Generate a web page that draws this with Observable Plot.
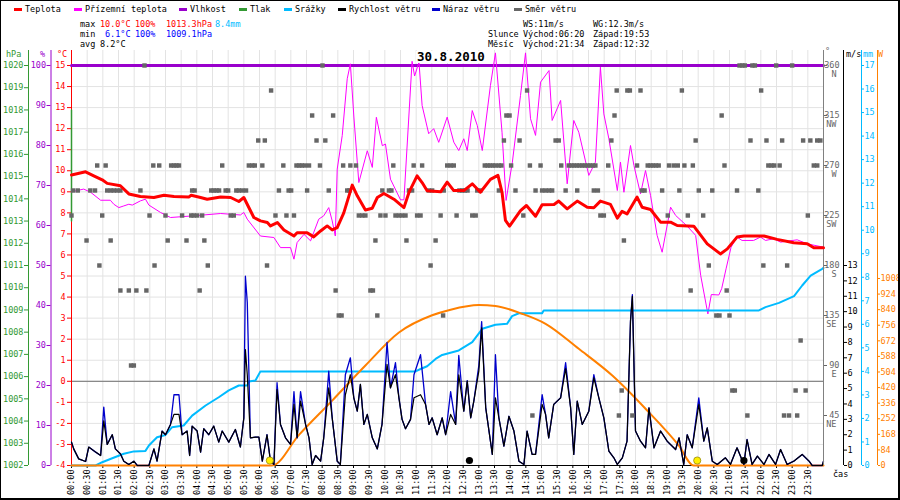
<!DOCTYPE html>
<html><head><meta charset="utf-8">
<script src="https://cdn.jsdelivr.net/npm/d3@7"></script>
<script src="https://cdn.jsdelivr.net/npm/@observablehq/plot@0.6"></script>
<style>
body{margin:0;background:#fff;}
#stage{position:relative;width:900px;height:500px;background:#fff;overflow:hidden;font-family:"DejaVu Sans Mono",monospace;font-size:8.5px;}
#stage svg{position:absolute;left:0;top:0;}
#stage svg text{font-family:"DejaVu Sans Mono",monospace !important;font-size:8.5px !important;}
.t{position:absolute;white-space:pre;line-height:10px;}
.sw{position:absolute;height:3px;width:8px;}
</style></head><body><div id="stage"></div>
<script>
// ---------------- data ----------------
const tempTime = [0,0.45,0.71,0.98,1.14,1.56,1.83,2.2,2.63,2.95,3.27,3.74,3.82,4.12,4.33,4.76,5.08,5.34,5.5,5.82,6.03,6.25,6.35,6.57,6.78,7.1,7.2,7.52,7.73,7.95,8.16,8.32,8.48,8.69,8.96,9.12,9.38,9.6,9.76,9.97,10.29,10.61,10.77,11.03,11.19,11.35,11.78,11.99,12.2,12.52,12.79,13.05,13.37,13.61,13.74,13.85,13.98,14.33,14.52,14.81,15.02,15.4,15.55,15.82,16.14,16.46,16.67,16.88,17.2,17.42,17.57,17.73,18.05,18.21,18.48,18.8,19.12,19.33,19.86,20.29,20.71,20.93,21.24,21.46,22.1,22.52,23.05,23.48,23.69,24];
const tempVal = [9.8,9.95,9.76,9.57,9.4,9.29,8.9,8.78,8.73,8.84,8.78,8.75,8.84,8.73,8.65,8.75,8.73,8.54,8.73,7.78,7.62,7.54,7.38,7.54,7.19,6.9,7.06,7.06,6.86,7.14,7.38,7.19,7.3,8.0,9.32,8.81,8.14,8.22,8.73,8.92,8.65,8.25,8.97,9.76,9.44,9.05,9.0,9.46,9.06,9.06,9.38,8.98,9.59,9.78,8.98,7.64,7.37,8.11,8.35,7.84,8.38,8.4,8.56,8.19,8.56,8.27,8.24,8.56,8.4,7.75,8.07,7.95,8.75,8.27,8.16,7.56,7.56,7.4,7.37,6.53,6.05,6.29,6.85,6.9,6.9,6.74,6.58,6.53,6.34,6.34];

const groundTime = [0,0.39,0.61,0.93,1.24,1.35,1.51,1.67,1.83,1.94,2.2,2.36,2.47,2.84,3.16,3.9,4.76,5.39,5.5,5.61,6.03,6.46,6.67,6.99,7.1,7.2,7.42,7.63,7.89,8.05,8.21,8.32,8.42,8.48,8.64,8.8,8.9,9.01,9.17,9.44,9.6,9.73,9.92,10.02,10.18,10.5,10.61,10.87,10.95,11.09,11.19,11.4,11.56,11.72,11.99,12.2,12.36,12.52,12.63,12.79,12.95,13.11,13.37,13.53,13.74,13.87,14.07,14.33,14.49,14.65,14.81,14.97,15.24,15.34,15.61,15.82,16.03,16.19,16.51,16.72,16.88,16.99,17.15,17.42,17.52,17.63,17.84,17.95,18.16,18.32,18.48,18.69,18.85,19.12,19.28,19.65,19.92,20.08,20.31,20.42,20.66,20.75,20.89,21.05,21.24,21.4,21.77,21.99,22.15,22.41,22.63,23.16,23.48,24];
const groundVal = [9.0,9.13,8.98,8.6,8.6,8.41,8.25,8.33,8.41,8.37,8.57,8.65,8.37,8.02,7.78,7.86,7.97,7.9,8.02,7.7,6.9,6.83,6.35,6.35,5.8,6.59,6.98,6.67,7.7,7.86,8.25,7.62,6.9,10.08,11.67,14.37,15.08,12.6,9.44,10.95,10.16,12.54,11.19,11.27,9.6,8.62,8.62,15.2,14.5,15.16,13.1,11.76,12.0,11.35,12.55,11.36,10.96,11.52,10.96,12.86,12.15,10.96,14.05,15.6,11.83,8.59,10.41,13.58,15.6,12.47,11.68,14.21,14.76,12.39,13.34,9.38,12.39,11.83,9.78,10.41,14.92,12.7,11.52,9.06,10.41,8.98,11.2,10.25,8.9,10.01,8.83,6.93,6.13,8.27,7.88,7.37,6.93,5.03,3.2,4.12,4.1,4.4,5.34,6.37,6.85,6.69,6.69,6.85,6.69,6.77,6.61,6.72,6.53,6.37];

const humTime = [0,24];
const humVal = [100,100];

const pressTime = [0,0];
const pressVal = [1018.0,1013.0];

const rainTime = [0,0.77,0.98,1.3,1.67,1.99,2.36,2.47,2.73,3.0,3.21,3.58,3.85,4.28,4.7,5.02,5.34,5.61,5.66,5.87,6.03,10.98,11.14,11.35,11.62,11.83,12.36,12.79,13.11,13.53,13.9,14.06,14.28,15.02,15.07,21.94,22.15,22.58,23.06,23.32,23.59,23.96,24];
const rainVal = [0,0,0.14,0.31,0.5,0.6,0.62,0.85,1.2,1.3,1.63,1.7,2.12,2.55,2.9,3.19,3.4,3.4,3.57,3.61,4.0,4.0,4.1,4.22,4.53,4.7,4.89,5.24,5.81,5.98,6.02,6.35,6.47,6.47,6.59,6.59,6.73,6.91,7.2,7.65,8.07,8.36,8.4];

const solarTime = [0,6.4,7.26,8.32,9.38,10.45,11.51,12.1,13.0,13.53,14.38,15.13,16.19,17.26,18.32,19.38,19.86,24];
const solarVal = [0,0,165,350,539,717,810,840,865,860,818,764,629,485,306,108,0,0];

const windTime = [0,0.07,0.23,0.45,0.55,0.77,0.93,1.03,1.14,1.3,1.4,1.56,1.67,1.83,1.99,2.1,2.47,2.63,2.73,2.89,3.0,3.16,3.27,3.43,3.53,3.69,3.77,3.85,4.01,4.12,4.22,4.38,4.54,4.7,4.81,5.02,5.23,5.39,5.5,5.55,5.61,5.71,5.87,5.98,6.09,6.24,6.35,6.46,6.56,6.67,6.83,6.99,7.1,7.2,7.31,7.47,7.58,7.68,7.79,7.95,8.05,8.21,8.32,8.48,8.58,8.74,8.9,9.01,9.12,9.22,9.33,9.44,9.6,9.76,9.91,10.07,10.18,10.34,10.45,10.55,10.66,10.82,10.93,11.14,11.3,11.41,11.51,11.67,11.83,11.94,12.1,12.26,12.36,12.52,12.63,12.74,12.84,13.0,13.09,13.22,13.43,13.53,13.64,13.8,13.96,14.12,14.28,14.44,14.54,14.7,14.81,15.02,15.13,15.23,15.39,15.61,15.77,15.93,16.03,16.14,16.3,16.51,16.67,16.83,16.99,17.15,17.31,17.42,17.58,17.73,17.84,17.9,18.0,18.16,18.32,18.43,18.59,18.8,19.01,19.28,19.39,19.54,19.65,19.81,20.02,20.18,20.29,20.45,20.61,20.87,21.03,21.24,21.46,21.56,21.72,21.89,22.1,22.26,22.47,22.63,22.84,23.05,23.32,23.54,23.64,23.96,24];
const windSpeed = [1.52,1.08,0.43,0.26,1.2,0.87,0.65,2.9,1.37,2.0,1.08,0.76,0.28,0.07,0.28,0,0,1.08,0.28,2.24,2.0,2.67,3.32,3.32,2.0,2.24,0.65,2.56,2.24,0.87,2.39,2.0,2.56,1.52,2.24,1.52,2.34,1.2,3.1,7.54,5.9,1.8,1.84,1.84,0.28,2.0,0.28,0.07,4.94,2.67,1.8,1.37,3.97,1.8,4.18,2.67,1.8,0.07,0.65,0.28,1.8,5.05,3.1,0.28,0.07,4.6,5.9,4.4,3.53,5.27,2.67,3.32,1.8,1.08,2.67,6.57,5.05,5.9,4.4,3.0,2.39,3.0,4.4,4.6,3.97,2.67,3.1,2.0,3.1,2.0,3.32,2.67,5.9,3.53,5.48,3.1,4.18,6.13,8.95,3.75,0.72,4.4,3.1,1.26,3.2,2.24,0.28,0.07,2.24,0.72,0.72,3.97,3.32,1.8,3.97,4.4,6.3,3.75,0.72,4.18,2.67,3.53,5.7,4.4,3.1,0.93,0.5,0.07,0.5,1.58,9.38,11.0,2.24,1.58,1.15,3.75,1.15,2.24,1.58,1.04,1.8,0.07,2.0,1.15,3.97,1.58,2.45,0.28,0.07,0.5,0.07,1.15,0.07,1.69,0.07,0.61,0.07,0.72,0.07,1.04,0.07,0.28,0.72,0.28,0,0,0.28];
const windGust = [1.52,1.08,0.43,0.26,1.2,0.87,0.65,3.8,1.37,2.0,1.08,0.76,0.28,0.07,0.28,0,0,1.08,0.28,2.24,2.0,2.67,4.6,4.6,2.0,2.24,0.65,2.56,2.24,0.87,2.39,2.0,2.56,1.52,2.24,1.52,2.34,1.2,3.1,12.3,10.6,1.8,1.84,1.84,0.28,2.0,0.28,0.07,5.38,2.67,1.8,1.37,4.8,1.8,4.8,2.67,1.8,0.07,0.65,0.28,1.8,6.13,3.1,0.28,0.07,5.9,7.0,4.4,3.53,5.27,2.67,3.32,1.8,1.08,2.67,8.0,5.05,6.68,4.4,3.0,2.39,3.0,5.9,7.2,3.97,2.67,3.1,2.0,3.1,2.0,4.8,2.67,7.15,3.53,5.52,3.1,4.18,6.5,9.35,3.75,0.72,7.2,3.1,1.26,3.2,2.24,0.28,0.07,2.24,0.72,0.72,4.6,3.32,1.8,3.97,4.4,6.68,3.75,0.72,4.18,2.67,3.53,5.9,4.4,3.1,0.93,0.5,0.07,0.5,1.58,9.38,11.1,2.24,1.58,1.15,3.75,1.15,2.24,1.58,1.04,1.8,0.07,2.0,1.15,4.4,1.58,2.45,0.28,0.07,0.5,0.07,1.15,0.07,1.69,0.07,0.61,0.07,0.72,0.07,1.04,0.07,0.28,0.72,0.28,0,0,0.28];

// wind direction: observation times (h) per compass sector
const dirN   = [2.33,8.01,21.32,21.41,21.49,21.73,21.81,22.49,23.0];
const dirNNW = [6.37,14.54,17.4,17.74,17.82,18.16,19.48,22.01];
const dirNW  = [7.68,8.35,13.88,13.98,17.33,20.75];
const dirWNW = [5.96,6.17,7.82,8.1,13.8,14.3,15.45,15.55,17.23,19.92,21.67,22.18,22.68,23.35,23.58,23.8,23.9];
const dirW   = [0.82,1.09,2.61,2.8,3.18,3.27,3.35,3.43,4.81,5.66,5.77,5.85,6.09,6.76,7.18,7.27,7.35,7.45,7.58,7.93,8.67,8.9,9.08,10.27,10.92,11.19,11.99,12.1,12.2,13.19,13.28,13.36,13.45,13.53,13.64,13.72,14.03,14.63,14.97,15.63,15.87,15.96,16.04,16.13,16.21,16.3,16.38,16.47,16.55,16.64,16.72,17.13,18.05,18.39,18.48,18.56,18.65,18.74,19.07,19.22,19.35,19.56,19.83,20.84,22.24,22.34,22.43,22.6,23.69,23.8];
const dirWSW = [0.05,0.2,0.6,0.75,1.14,1.25,1.35,1.46,1.56,2.2,3.85,3.93,4.46,4.54,4.63,4.71,4.92,5.0,5.26,5.34,5.45,5.57,6.62,6.93,7.01,7.52,8.21,8.8,8.87,9.92,10.13,10.21,10.77,10.87,11.4,11.51,11.88,12.38,12.47,12.55,12.64,12.95,13.05,13.64,14.17,14.81,15.02,15.13,15.24,15.34,15.77,16.14,16.67,16.8,18.21,18.29,18.85,19.4,20.02,20.45,21.24,21.92];
const dirSW  = [0,0.98,2.49,3.0,3.53,3.82,3.9,4.01,4.17,5.08,5.18,6.51,6.86,7.1,9.17,9.28,9.38,9.86,10.02,10.34,10.45,10.55,10.66,11.03,11.14,11.78,12.29,12.79,12.9,14.42,16.88,16.99,19.03,19.67,20.16,23.5];
const dirSSW = [0.48,1.25,3.07,3.67,4.24,9.7,10.69,11.62,17.63];
const dirS   = [0.89,2.65,4.35,6.24,11.46,20.34,22.08,22.84];
const dirSSE = [1.56,1.83,2.07,2.39,4.09,8.43,9.54,9.62,19.76,20.91];
const dirSE  = [8.53,8.62,9.76,11.86,20.58,20.68,21.0];
const dirESE = [23.27];
const dirE   = [1.9,1.99];
const dirENE = [17.56,21.09,21.17,23.11,23.43];
const dirNE  = [14.71,17.47,17.9,21.57,22.74,22.9,23.16];

const sunTimes = [6.33,19.97];   // sunrise / sunset markers
const moonTimes = [12.7,21.46];  // moonset / moonrise markers

// ticks
const tempTicks = [-4,-3,-2,-1,0,1,2,3,4,5,6,7,8,9,10,11,12,13,14,15];
const hpaTicks = [1002,1003,1004,1005,1006,1007,1008,1009,1010,1011,1012,1013,1014,1015,1016,1017,1018,1019,1020];
const humTicks = [0,10,20,30,40,50,60,70,80,90,100];
const dirTicks = [45,90,135,180,225,270,315,360];
const dirNames = ["NE","E","SE","S","SW","W","NW","N"];
const msTicks = [0,1,2,3,4,5,6,7,8,9,10,11,12,13];
const mmTicks = [0,1,2,3,4,5,6,7,8,9,10,11,12,13,14,15,16,17];
const wTicks = [0,84,168,252,336,420,504,588,672,756,840,924,1008];
const timeLabels = ["00:00","00:30","01:00","01:30","02:00","02:30","03:00","03:30","04:00","04:30","05:00","05:30","06:00","06:30","07:00","07:30","08:00","08:30","09:00","09:30","10:00","10:30","11:00","11:30","12:00","12:30","13:00","13:30","14:00","14:30","15:00","15:30","16:00","16:30","17:00","17:30","18:00","18:30","19:00","19:30","20:00","20:30","21:00","21:30","22:00","22:30","23:00","23:30"];
const timeTicks = timeLabels.map((s, i) => i / 2);
const gridTimes = timeTicks.concat([24]);

const legendLabels = ["Teplota","Přízemní teplota","Vlhkost","Tlak","Srážky","Rychlost větru","Náraz větru","Směr větru"];

// ---------------- style ----------------
const RED = "#ff0000", MAG = "#ff00ff", PUR = "#9900cc", GRN = "#339933",
      LBL = "#00bbff", DBL = "#0000cc", GRY = "#666666", ORG = "#ff8000";
const legendColors = [RED, MAG, PUR, GRN, LBL, "#000000", DBL, GRY];
const legendTextX = [25, 85, 190, 250, 295, 349, 443, 525];

const stage = document.getElementById("stage");
const FONT = '"DejaVu Sans Mono", monospace';
const AX = {fontSize: 8.5, fontFamily: FONT, label: null, tickFormat: d => String(d)};

function layer(yDomain, marks) {
  const svg = Plot.plot({
    width: 900, height: 500,
    marginTop: 50, marginBottom: 35, marginLeft: 71, marginRight: 77,
    x: {domain: [0, 24], axis: null},
    y: {domain: yDomain, axis: null},
    style: {background: "transparent", fontFamily: FONT, fontSize: "8.5px", overflow: "visible"},
    marks
  });
  svg.style.position = "absolute";
  svg.style.left = "0px";
  svg.style.top = "0px";
  stage.appendChild(svg);
}

const zip = (ts, vs) => ts.map((t, i) => ({t, v: vs[i]}));

const TEMP_DOM = [-4, 15.7125];

// base: grid, °C axis, time axis
layer(TEMP_DOM, [
  Plot.ruleX(gridTimes, {stroke: "#e3e3e3"}),
  Plot.ruleY(tempTicks, {stroke: "#e3e3e3"}),
  Plot.ruleY([0], {stroke: "#707070"}),
  Plot.ruleY([-4], {stroke: "#000"}),
  Plot.ruleX([0], {stroke: RED}),
  Plot.axisY(tempTicks, {...AX, anchor: "left", tickSize: 4, tickPadding: 2, color: RED}),
  Plot.axisX(timeTicks, {...AX, anchor: "bottom", tickSize: 3, tickPadding: 1, tickRotate: -90,
    textAnchor: "end", lineAnchor: "middle", color: "#000",
    tickFormat: d => timeLabels[Math.round(d * 2)]})
]);

// pressure
layer([1002, 1020.675], [
  Plot.ruleX([0], {dx: -43, stroke: GRN}),
  Plot.axisY(hpaTicks, {...AX, anchor: "left", dx: -43, tickSize: 4, tickPadding: 1, color: GRN}),
  Plot.line(zip(pressTime, pressVal), {x: "t", y: "v", stroke: GRN, strokeWidth: 1.5})
]);

// humidity
layer([0, 103.75], [
  Plot.ruleX([0], {dx: -20.5, stroke: PUR}),
  Plot.axisY(humTicks, {...AX, anchor: "left", dx: -20.5, tickSize: 4, tickPadding: 1, color: PUR}),
  Plot.line(zip(humTime, humVal), {x: "t", y: "v", stroke: PUR, strokeWidth: 3})
]);

// ground temperature
layer(TEMP_DOM, [
  Plot.line(zip(groundTime, groundVal), {x: "t", y: "v", stroke: MAG, strokeWidth: 1})
]);

// precipitation
layer([0, 17.6375], [
  Plot.ruleX([24], {dx: 38, stroke: LBL}),
  Plot.axisY(mmTicks, {...AX, anchor: "right", dx: 38, tickSize: 2, tickPadding: 1, color: LBL}),
  Plot.line(zip(rainTime, rainVal), {x: "t", y: "v", stroke: LBL, strokeWidth: 2})
]);

// solar radiation
layer([0, 2237], [
  Plot.ruleX([24], {dx: 54, stroke: ORG}),
  Plot.axisY(wTicks, {...AX, anchor: "right", dx: 54, tickSize: 2, tickPadding: 1, color: ORG}),
  Plot.line(zip(solarTime, solarVal), {x: "t", y: "v", stroke: ORG, strokeWidth: 2, curve: "monotone-x"})
]);

// wind speed & gusts
layer([0, 26.975], [
  Plot.ruleX([24], {dx: 20, stroke: "#000"}),
  Plot.axisY(msTicks, {...AX, anchor: "right", dx: 20, tickSize: 3, tickPadding: 1, color: "#000"}),
  Plot.line(zip(windTime, windGust), {x: "t", y: "v", stroke: DBL, strokeWidth: 1.3}),
  Plot.line(zip(windTime, windSpeed), {x: "t", y: "v", stroke: "#000", strokeWidth: 1.2})
]);

// wind direction
const dirSectors = [[360, dirN],[337.5, dirNNW],[315, dirNW],[292.5, dirWNW],[270, dirW],[247.5, dirWSW],[225, dirSW],[202.5, dirSSW],[180, dirS],[157.5, dirSSE],[135, dirSE],[112.5, dirESE],[90, dirE],[67.5, dirENE],[45, dirNE]];
const dirData = dirSectors.flatMap(([deg, ts]) => ts.map(t => ({t, v: deg})));
layer([0, 373.5], [
  Plot.ruleX([24], {stroke: "#808080"}),
  Plot.axisY(dirTicks, {...AX, anchor: "right", tickSize: 3, tickPadding: 13, textAnchor: "end", color: GRY}),
  Plot.axisY(dirTicks, {...AX, anchor: "right", tickSize: 0, tickPadding: 13, textAnchor: "end", dy: 9, color: GRY,
    tickFormat: d => dirNames[dirTicks.indexOf(d)]}),
  Plot.dot(dirData, {x: "t", y: "v", symbol: "square", r: 2.5, fill: GRY})
]);

// air temperature + sun/moon markers
layer(TEMP_DOM, [
  Plot.line(zip(tempTime, tempVal), {x: "t", y: "v", stroke: RED, strokeWidth: 3}),
  Plot.dot(sunTimes, {x: d => d, frameAnchor: "bottom", dy: -5, r: 3.6, fill: "#ffee00", stroke: "#8a7d00", strokeWidth: 0.7}),
  Plot.dot(moonTimes, {x: d => d, frameAnchor: "bottom", dy: -5, r: 3.6, fill: "#000"})
]);

// ---------------- html text ----------------
function txt(x, yc, s, color, extra = {}) {
  const e = document.createElement("div");
  e.className = "t";
  e.style.left = x + "px";
  e.style.top = (yc - 5.5) + "px";
  e.style.color = color || "#000";
  Object.assign(e.style, extra);
  e.textContent = s;
  stage.appendChild(e);
  return e;
}
legendLabels.forEach((lab, i) => {
  const sw = document.createElement("div");
  sw.className = "sw";
  sw.style.left = (legendTextX[i] - 11) + "px";
  sw.style.top = "7.5px";
  sw.style.background = legendColors[i];
  stage.appendChild(sw);
  txt(legendTextX[i], 9, lab, "#000");
});
txt(80, 24, "max", "#000"); txt(100, 24, "10.0°C", RED); txt(135, 24, "100%", RED); txt(166, 24, "1013.3hPa", RED); txt(215, 24, "8.4mm", LBL);
txt(80, 34, "min", "#000"); txt(105, 34, "6.1°C", "#0000ff"); txt(135, 34, "100%", "#0000ff"); txt(166, 34, "1009.1hPa", "#0000ff");
txt(80, 44, "avg", "#000"); txt(100, 44, "8.2°C", "#000");
txt(523, 24, "WS:11m/s", "#000"); txt(593, 24, "WG:12.3m/s", "#000");
txt(488, 34, "Slunce", "#000"); txt(523, 34, "Východ:06:20", "#000"); txt(593, 34, "Západ:19:53", "#000");
txt(488, 44, "Měsíc", "#000"); txt(523, 44, "Východ:21:34", "#000"); txt(593, 44, "Západ:12:32", "#000");
// axis units
txt(6, 54.5, "hPa", GRN); txt(40, 54.5, "%", PUR); txt(57, 54.5, "°C", RED);
txt(825, 51, "°", GRY); txt(846, 54.5, "m/s", "#000"); txt(863, 54.5, "mm", LBL); txt(878, 54.5, "W", ORG);
txt(833, 474, "čas", "#000");
// title
const title = txt(416, 57, "30.8.2010", "#000", {fontWeight: "bold", fontSize: "12.5px", lineHeight: "12px", background: "#fff", padding: "0 1px"});
title.style.top = "51px";
// border
const border = document.createElement("div");
Object.assign(border.style, {position: "absolute", left: "0", top: "0", width: "900px", height: "500px", boxSizing: "border-box",
  borderTop: "1px solid #000", borderLeft: "1px solid #000", borderRight: "2px solid #000", borderBottom: "2px solid #000", pointerEvents: "none"});
stage.appendChild(border);
</script>
</body></html>
